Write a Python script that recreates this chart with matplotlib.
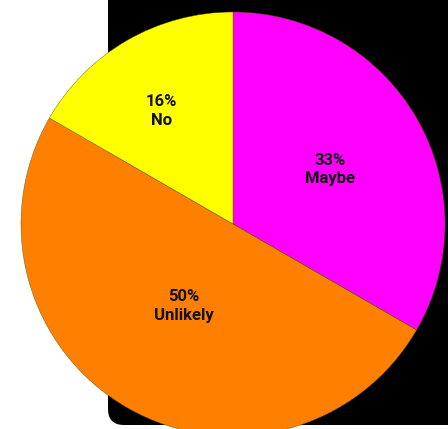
import numpy as np
import matplotlib.pyplot as plt
from matplotlib.patches import FancyBboxPatch

# slices, clockwise from 12 o'clock
labels = ["Maybe", "Unlikely", "No"]
values = [2, 3, 1]
colors = ["#FF00FF", "#FF8000", "#FFFF00"]

W, H = 448, 429
fig = plt.figure(figsize=(W / 100, H / 100), dpi=100)
ax = fig.add_axes([0, 0, 1, 1])

# black card behind the pie
card = FancyBboxPatch((108, 4), W, H + 40, boxstyle="round,pad=0,rounding_size=16",
                      facecolor="black", edgecolor="none", zorder=0)
ax.add_patch(card)

cx, cy, r = 233, 205, 212
wedges, _ = ax.pie(values, colors=colors, startangle=90, counterclock=False,
                   center=(cx, cy), radius=r, frame=True,
                   wedgeprops=dict(edgecolor="#555500", linewidth=0.3))
for w in wedges:
    w.set_zorder(1)
ax.set_xlim(0, W)
ax.set_ylim(0, H)
ax.set_aspect("equal")
ax.axis("off")

# labels near the centroid of each sector
total = sum(values)
start = 90.0
for lab, v in zip(labels, values):
    span = 360.0 * v / total
    mid = np.deg2rad(start - span / 2)
    half = np.deg2rad(span / 2)
    d = 2 * r * np.sin(half) / (3 * half)
    pct = int(100 * v / total)
    ax.text(cx + d * np.cos(mid) - 4, cy + d * np.sin(mid) - 4, f"{pct}%\n{lab}",
            ha="center", va="center", fontsize=12, fontweight="bold",
            family="Roboto", color="#111111", linespacing=1.3, zorder=3)
    start -= span

fig.savefig("out.png", dpi=100)
